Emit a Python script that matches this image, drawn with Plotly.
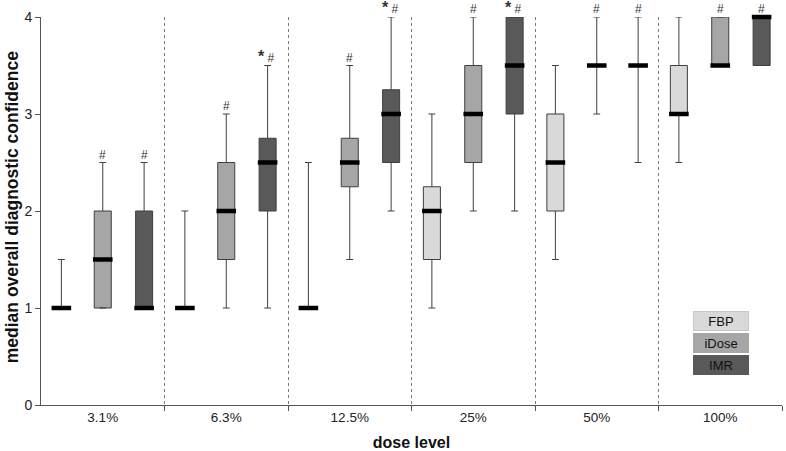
import plotly.graph_objects as go

DOSES = ["3.1%", "6.3%", "12.5%", "25%", "50%", "100%"]
METHODS = ["FBP", "iDose", "IMR"]

# per method, one value per dose level
LOWER = {
    "FBP": [1, 1, 1, 1, 1.5, 2.5],
    "iDose": [1, 1, 1.5, 2, 3, 3.5],
    "IMR": [1, 1, 2, 2, 2.5, 3.5],
}
Q1 = {
    "FBP": [1, 1, 1, 1.5, 2, 3],
    "iDose": [1, 1.5, 2.25, 2.5, 3.5, 3.5],
    "IMR": [1, 2, 2.5, 3, 3.5, 3.5],
}
MEDIAN = {
    "FBP": [1, 1, 1, 2, 2.5, 3],
    "iDose": [1.5, 2, 2.5, 3, 3.5, 3.5],
    "IMR": [1, 2.5, 3, 3.5, 3.5, 4],
}
Q3 = {
    "FBP": [1, 1, 1, 2.25, 3, 3.5],
    "iDose": [2, 2.5, 2.75, 3.5, 3.5, 4],
    "IMR": [2, 2.75, 3.25, 4, 3.5, 4],
}
UPPER = {
    "FBP": [1.5, 2, 2.5, 3, 3.5, 4],
    "iDose": [2.5, 3, 3.5, 4, 4, 4],
    "IMR": [2.5, 3.5, 4, 4, 4, 4],
}
MARKS = {
    "FBP": ["", "", "", "", "", ""],
    "iDose": ["#", "#", "#", "#", "#", "#"],
    "IMR": ["#", "*#", "*#", "*#", "#", "#"],
}

FILL = {"FBP": "#d9d9d9", "iDose": "#a6a6a6", "IMR": "#595959"}
OFFSET = {"FBP": -0.335, "iDose": 0.0, "IMR": 0.335}
EDGE = "#3f3f3f"

fig = go.Figure()

for m in METHODS:
    xs = [i + OFFSET[m] for i in range(len(DOSES))]
    fig.add_trace(
        go.Box(
            x=xs,
            q1=Q1[m],
            median=MEDIAN[m],
            q3=Q3[m],
            lowerfence=LOWER[m],
            upperfence=UPPER[m],
            width=0.138,
            whiskerwidth=0.4,
            fillcolor=FILL[m],
            line={"color": EDGE, "width": 1},
            name=m,
            showlegend=False,
        )
    )
    fig.add_trace(
        go.Scatter(
            x=xs,
            y=MEDIAN[m],
            mode="markers",
            marker={"symbol": "line-ew", "size": 14, "line": {"width": 4.5, "color": "black"}},
            cliponaxis=False,
            showlegend=False,
            hoverinfo="skip",
        )
    )
    for x, top, mark in zip(xs, UPPER[m], MARKS[m]):
        if not mark:
            continue
        text = "#"
        if mark.startswith("*"):
            text = "<span style='font-size:16px'><b>*</b></span> #"
        fig.add_annotation(
            x=x, y=top, text=text, showarrow=False, yanchor="bottom", yshift=-1,
            xshift=-1 if mark.startswith("*") else 0,
            font={"size": 12, "color": "#333333"},
        )

# legend boxes
legend_y = [0.217, 0.16, 0.103]
for m, ly in zip(METHODS, legend_y):
    fig.add_annotation(
        x=0.918, y=ly, xref="paper", yref="paper", text=m, showarrow=False,
        width=52, height=16, bgcolor=FILL[m], borderwidth=1, bordercolor="#c8c8c8" if m == "FBP" else FILL[m],
        font={"size": 13, "color": "#111111"}, xanchor="center", yanchor="middle",
    )

# y title as an annotation so it can sit a little further right
fig.add_annotation(
    x=-0.039, y=0.51, xref="paper", yref="paper", textangle=-90, showarrow=False,
    text="<b>median overall diagnostic confidence</b>",
    font={"size": 17.5, "color": "#111111"}, xanchor="center", yanchor="middle",
)

fig.update_layout(
    width=786,
    height=451,
    paper_bgcolor="white",
    plot_bgcolor="white",
    boxmode="overlay",
    font={"family": "Liberation Sans, Arial", "color": "#222222"},
    margin={"l": 41, "r": 4, "t": 17, "b": 46},
)
fig.update_xaxes(
    range=[-0.5, 5.5],
    automargin=False,
    tickvals=list(range(len(DOSES))),
    ticktext=DOSES,
    ticks="",
    showgrid=False,
    zeroline=False,
    showline=True,
    linecolor="#555555",
    tickfont={"size": 13.5, "color": "#222222"},
    title={"text": "<b>dose level</b>", "font": {"size": 16, "color": "#111111"}},
    minor={
        "tickvals": [i + 0.5 for i in range(len(DOSES))],
        "ticks": "outside",
        "ticklen": 5,
        "tickcolor": "#555555",
        "showgrid": True,
        "gridcolor": "#7a7a7a",
        "griddash": "3px,3px",
        "gridwidth": 1,
    },
)
fig.update_yaxes(
    range=[0, 4],
    automargin=False,
    tickvals=[0, 1, 2, 3, 4],
    ticks="outside",
    ticklen=5,
    tickcolor="#555555",
    showgrid=False,
    zeroline=False,
    showline=True,
    linecolor="#555555",
    tickfont={"size": 14, "color": "#222222"},
)

# drop the default 8px body margin so the figure fills the window
fig.write_html(
    "out.html",
    config={"displayModeBar": False},
    post_script="document.body.style.margin = '0';",
)
